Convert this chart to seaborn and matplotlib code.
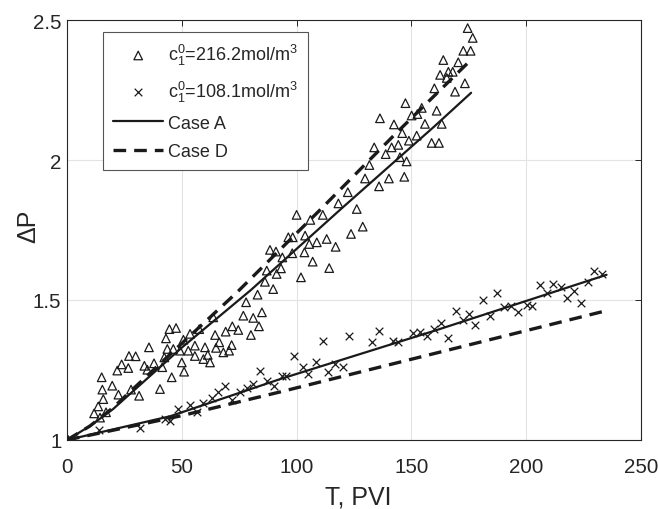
import matplotlib
matplotlib.use("Agg")
import matplotlib.pyplot as plt
import seaborn as sns
import pandas as pd

# ---- data ----
t_216 = [0.5, 11.8, 13.6, 14.4, 15.1, 15.4, 15.8, 17.0, 19.7, 21.9, 22.4, 23.8, 26.7, 27.0, 27.9,
         29.9, 31.4, 33.7, 35.0, 35.7, 37.9, 40.5, 41.5, 42.4, 43.1, 43.7, 44.6, 45.6, 46.3, 47.5,
         49.2, 50.0, 50.7, 51.0, 52.8, 53.6, 55.7, 55.7, 57.6, 59.4, 60.1, 61.3, 62.3, 63.7, 64.5,
         64.9, 66.3, 68.1, 69.1, 70.6, 71.7, 72.0, 74.6, 76.8, 78.0, 80.1, 81.1, 83.0, 83.6, 84.9,
         86.2, 87.0, 88.4, 89.8, 91.0, 91.3, 93.2, 93.8, 96.4, 98.1, 98.3, 100.0, 101.9, 103.4,
         103.7, 105.5, 106.0, 107.0, 108.8, 111.4, 113.1, 114.2, 117.0, 118.2, 122.3, 123.7,
         126.2, 128.8, 129.8, 131.7, 133.8, 135.9, 136.3, 138.8, 140.2, 141.4, 142.4, 144.3,
         145.0, 146.0, 146.9, 147.4, 147.9, 148.9, 150.1, 152.3, 152.6, 154.5, 155.9, 158.8,
         160.0, 161.0, 162.0, 162.5, 163.2, 163.9, 165.4, 166.1, 168.0, 169.0, 170.4, 172.6,
         173.3, 174.5, 175.8, 176.7]
dp_216 = [1.000, 1.095, 1.120, 1.080, 1.224, 1.180, 1.146, 1.099, 1.194, 1.248, 1.162, 1.270, 1.257, 1.300, 1.180,
          1.299, 1.158, 1.265, 1.251, 1.331, 1.274, 1.182, 1.260, 1.295, 1.363, 1.325, 1.396, 1.224, 1.325, 1.400,
          1.319, 1.277, 1.358, 1.244, 1.319, 1.379, 1.337, 1.300, 1.396, 1.289, 1.331, 1.304, 1.277, 1.438, 1.375,
          1.329, 1.349, 1.313, 1.387, 1.319, 1.339, 1.406, 1.393, 1.444, 1.492, 1.375, 1.436, 1.519, 1.406, 1.456,
          1.565, 1.605, 1.679, 1.539, 1.673, 1.593, 1.613, 1.652, 1.724, 1.667, 1.724, 1.804, 1.581, 1.670,
          1.730, 1.700, 1.786, 1.637, 1.706, 1.804, 1.718, 1.614, 1.690, 1.845, 1.885, 1.736,
          1.825, 1.762, 1.934, 1.982, 2.045, 1.906, 2.149, 2.021, 1.934, 2.045, 2.127, 2.054,
          2.010, 2.096, 1.940, 2.203, 1.995, 2.069, 2.159, 2.087, 2.164, 2.186, 2.129, 2.061,
          2.256, 2.176, 2.061, 2.304, 2.129, 2.357, 2.293, 2.315, 2.315, 2.244, 2.349, 2.390,
          2.274, 2.471, 2.390, 2.436]

t_108 = [0.5, 14.0, 31.8, 42.7, 44.9, 48.5, 53.6, 56.5, 59.4, 63.0, 65.9, 68.8, 71.7, 75.3, 78.5,
         81.1, 84.1, 87.2, 90.2, 93.5, 95.6, 99.0, 102.6, 105.1, 108.5, 111.4, 113.8, 116.7, 120.1,
         122.9, 132.7, 136.0, 142.1, 144.3, 150.8, 153.7, 156.7, 159.8, 162.9, 166.0, 169.4,
         172.6, 175.1, 177.7, 181.3, 184.2, 187.4, 190.3, 193.2, 196.6, 200.2, 202.7, 206.0,
         208.9, 211.8, 215.2, 217.9, 220.8, 223.9, 226.8, 229.5, 233.1]
dp_108 = [1.000, 1.035, 1.043, 1.075, 1.069, 1.111, 1.125, 1.101, 1.132, 1.149, 1.170, 1.194, 1.144, 1.170, 1.185,
          1.200, 1.248, 1.212, 1.194, 1.230, 1.230, 1.301, 1.260, 1.236, 1.280, 1.352, 1.242, 1.271, 1.262,
          1.370, 1.351, 1.390, 1.355, 1.349, 1.382, 1.385, 1.373, 1.396, 1.418, 1.366, 1.462,
          1.427, 1.450, 1.412, 1.501, 1.442, 1.525, 1.474, 1.480, 1.458, 1.482, 1.480, 1.554,
          1.525, 1.557, 1.548, 1.506, 1.533, 1.488, 1.563, 1.602, 1.593]

caseA_216_t = [0, 10, 20, 50, 80, 120, 160, 176]
caseA_216_dp = [1.0, 1.05, 1.11, 1.33, 1.535, 1.83, 2.12, 2.24]
caseD_216_t = [0, 10, 20, 50, 74, 110, 143, 175]
caseD_216_dp = [1.0, 1.05, 1.115, 1.345, 1.527, 1.82, 2.093, 2.35]
caseA_108_t = [0, 45, 93, 160, 235]
caseA_108_dp = [1.0, 1.085, 1.218, 1.39, 1.59]
caseD_108_t = [0, 50, 93, 233]
caseD_108_dp = [1.0, 1.087, 1.172, 1.458]

x_ticks = [0, 50, 100, 150, 200, 250]
y_ticks = [1, 1.5, 2, 2.5]
y_tick_labels = ["1", "1.5", "2", "2.5"]

label_216 = r"c$_1^0$=216.2mol/m$^3$"
label_108 = r"c$_1^0$=108.1mol/m$^3$"

# ---- style ----
sns.set_style("white")
plt.rcParams["font.family"] = ["Liberation Sans", "DejaVu Sans"]
plt.rcParams["mathtext.fontset"] = "custom"
plt.rcParams["mathtext.rm"] = "Liberation Sans"
plt.rcParams["mathtext.it"] = "Liberation Sans"
plt.rcParams["mathtext.default"] = "regular"

INK = "#262626"
fig = plt.figure(figsize=(6.58, 5.10), dpi=100)
ax = fig.add_axes([67 / 658, 1 - 441 / 510, 574 / 658, 420 / 510])

df216 = pd.DataFrame({"t": t_216, "dp": dp_216})
df108 = pd.DataFrame({"t": t_108, "dp": dp_108})

sns.scatterplot(data=df216, x="t", y="dp", marker="^", s=38, facecolor="none",
                edgecolor="#1a1a1a", linewidth=0.9, ax=ax, label=label_216, zorder=3)
sns.scatterplot(data=df108, x="t", y="dp", marker="x", s=30, color="#1a1a1a",
                linewidth=0.9, ax=ax, label=label_108, zorder=3)

sns.lineplot(x=caseA_216_t, y=caseA_216_dp, color="#1a1a1a", lw=1.6, ax=ax, label="Case A", zorder=4)
sns.lineplot(x=caseA_108_t, y=caseA_108_dp, color="#1a1a1a", lw=1.6, ax=ax, zorder=4)
sns.lineplot(x=caseD_216_t, y=caseD_216_dp, color="#1a1a1a", lw=2.4, ax=ax, label="Case D", zorder=4)
sns.lineplot(x=caseD_108_t, y=caseD_108_dp, color="#1a1a1a", lw=2.4, ax=ax, zorder=4)
for ln in ax.lines[2:]:
    ln.set_linestyle((0, (3.8, 2.4)))

ax.set_xlim(0, 250)
ax.set_ylim(1, 2.5)
ax.set_xticks(x_ticks)
ax.set_yticks(y_ticks)
ax.set_yticklabels(y_tick_labels)
ax.grid(True, color="#e3e3e3", lw=0.8)
ax.set_axisbelow(True)
for sp in ax.spines.values():
    sp.set_color(INK)
    sp.set_linewidth(0.8)
ax.tick_params(direction="in", top=True, right=True, length=4.5, width=0.7,
               colors=INK, labelsize=14.8)
ax.tick_params(axis="x", pad=12.5)
ax.tick_params(axis="y", pad=4)
ax.set_xlabel("T, PVI", fontsize=18, color=INK)
ax.set_ylabel("ΔP", fontsize=18, color=INK)
ax.xaxis.set_label_coords(0.508, -0.105)
ax.yaxis.set_label_coords(-0.046, 0.51)

handles, labels = ax.get_legend_handles_labels()
order = [label_216, label_108, "Case A", "Case D"]
hmap = dict(zip(labels, handles))
leg = ax.legend([hmap[k] for k in order], order, loc="upper left",
                bbox_to_anchor=(0.0627, 0.971), borderaxespad=0, fontsize=13,
                frameon=True, fancybox=False, framealpha=1, edgecolor="#555555",
                handlelength=2.8, handletextpad=0.25, borderpad=0.55, labelspacing=0.62)
leg.get_frame().set_linewidth(0.8)

fig.savefig("out.png", dpi=100)
